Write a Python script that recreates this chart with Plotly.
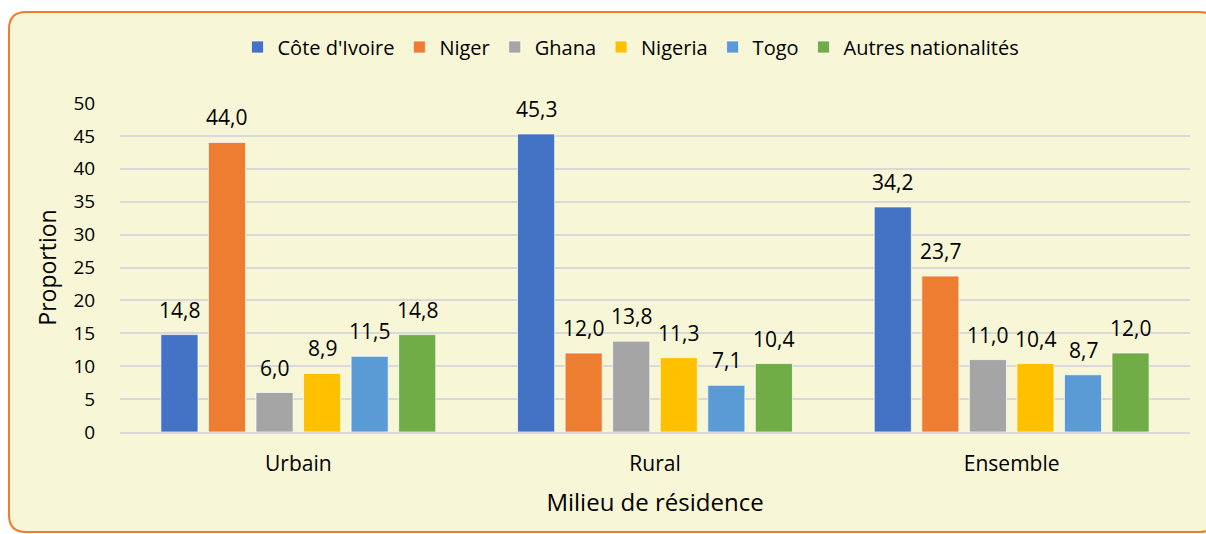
import plotly.graph_objects as go

milieux = ["Urbain", "Rural", "Ensemble"]
nationalites = ["Côte d'Ivoire", "Niger", "Ghana", "Nigeria", "Togo", "Autres nationalités"]
cote_ivoire = [14.8, 45.3, 34.2]
niger = [44.0, 12.0, 23.7]
ghana = [6.0, 13.8, 11.0]
nigeria = [8.9, 11.3, 10.4]
togo = [11.5, 7.1, 8.7]
autres = [14.8, 10.4, 12.0]

series = [cote_ivoire, niger, ghana, nigeria, togo, autres]
colors = ["#4472C4", "#ED7D31", "#A5A5A5", "#FFC000", "#5B9BD5", "#70AD47"]

W, H = 1206, 534
ML, MR, MT, MB = 120, 16, 103, 102
BARGAP = 0.2
FONT = "Open Sans, Lato, sans-serif"

fig = go.Figure()

for name, vals, col in zip(nationalites, series, colors):
    fig.add_trace(
        go.Bar(
            x=milieux,
            y=vals,
            name=name,
            marker=dict(color=col, line=dict(color="rgba(255,255,255,0.7)", width=1)),
        )
    )

# data labels, placed above each bar (comma decimal)
plot_w = W - ML - MR
slot = (1 - BARGAP) * (plot_w / len(milieux)) / len(series)
annotations = []
for j, vals in enumerate(series):
    for cat, v in zip(milieux, vals):
        annotations.append(
            dict(
                x=cat,
                y=v,
                xref="x",
                yref="y",
                text=f"{v:.1f}".replace(".", ","),
                showarrow=False,
                xshift=(j - (len(series) - 1) / 2) * slot,
                yshift=25,
                yanchor="middle",
                font=dict(size=21, color="#000000", family=FONT),
            )
        )

# rounded frame behind the chart (right edge runs past the page)
def px(x):
    return (x - ML) / plot_w


def py(y):
    return (H - MB - y) / (H - MT - MB)


x0, x1, y0, y1, r = 9, 1216, 12, 532, 17
path = (
    f"M {px(x0 + r)} {py(y0)} L {px(x1 - r)} {py(y0)} "
    f"Q {px(x1)} {py(y0)} {px(x1)} {py(y0 + r)} "
    f"L {px(x1)} {py(y1 - r)} Q {px(x1)} {py(y1)} {px(x1 - r)} {py(y1)} "
    f"L {px(x0 + r)} {py(y1)} Q {px(x0)} {py(y1)} {px(x0)} {py(y1 - r)} "
    f"L {px(x0)} {py(y0 + r)} Q {px(x0)} {py(y0)} {px(x0 + r)} {py(y0)} Z"
)

fig.update_layout(
    width=W,
    height=H,
    margin=dict(l=ML, r=MR, t=MT, b=MB),
    paper_bgcolor="white",
    plot_bgcolor="rgba(0,0,0,0)",
    barmode="group",
    bargap=BARGAP,
    bargroupgap=0.22,
    font=dict(family=FONT, size=19, color="#000000"),
    shapes=[
        dict(
            type="path",
            path=path,
            xref="paper",
            yref="paper",
            fillcolor="#F7F7D7",
            line=dict(color="#ED7D31", width=2),
            layer="below",
        )
    ],
    annotations=annotations,
    legend=dict(
        orientation="h",
        x=px(631),
        xanchor="center",
        y=py(47),
        yanchor="middle",
        bgcolor="rgba(0,0,0,0)",
        font=dict(size=20, family=FONT),
        itemwidth=30,
        tracegroupgap=0,
    ),
    xaxis=dict(
        title=dict(text="Milieu de résidence", font=dict(size=24), standoff=18),
        showgrid=False,
        showline=True,
        linecolor="#D9D9D9",
        linewidth=2,
        ticks="outside",
        ticklen=12,
        tickcolor="rgba(0,0,0,0)",
        tickfont=dict(size=21),
    ),
    yaxis=dict(
        title=dict(text="Proportion", font=dict(size=23), standoff=10),
        range=[0, 50],
        dtick=5,
        showgrid=True,
        gridcolor="#D9D9D9",
        gridwidth=2,
        zeroline=False,
        ticks="outside",
        ticklen=20,
        tickcolor="rgba(0,0,0,0)",
        tickfont=dict(size=19),
    ),
)

fig.write_html(
    "out.html",
    config={"displayModeBar": False},
    post_script="document.body.style.margin='0';document.body.style.overflow='hidden';",
)
